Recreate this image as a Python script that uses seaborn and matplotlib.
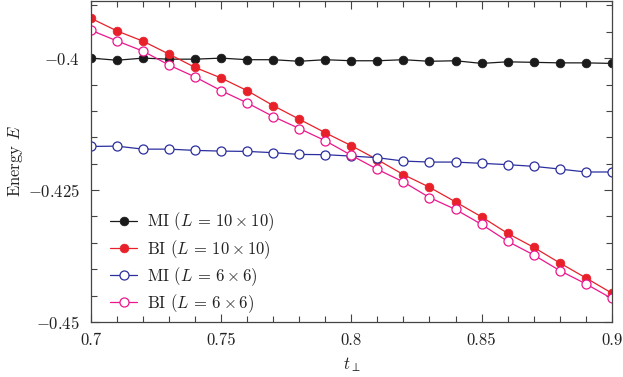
import numpy as np
import pandas as pd
import matplotlib
matplotlib.use('Agg')
import matplotlib.pyplot as plt
import seaborn as sns
from matplotlib.ticker import MultipleLocator, FixedLocator, FixedFormatter

# Datos
t_perp = [0.70, 0.71, 0.72, 0.73, 0.74, 0.75, 0.76, 0.77, 0.78, 0.79, 0.80,
          0.81, 0.82, 0.83, 0.84, 0.85, 0.86, 0.87, 0.88, 0.89, 0.90]

mi_10 = [-0.4000, -0.4004, -0.4000, -0.4002, -0.4002, -0.4000, -0.4003,
         -0.4003, -0.4006, -0.4003, -0.4005, -0.4005, -0.4003, -0.4006,
         -0.4005, -0.4010, -0.4007, -0.4008, -0.4009, -0.4009, -0.4010]

bi_10 = [-0.39245, -0.39485, -0.39679, -0.39925, -0.40177, -0.40377, -0.40617,
         -0.40900, -0.41158, -0.41415, -0.41660, -0.41925, -0.42208, -0.42447,
         -0.42725, -0.43008, -0.43321, -0.43585, -0.43881, -0.44164, -0.44453]

mi_6 = [-0.41674, -0.41668, -0.41725, -0.41725, -0.41749, -0.41762, -0.41768,
        -0.41792, -0.41825, -0.41830, -0.41857, -0.41887, -0.41951, -0.41970,
        -0.41970, -0.41994, -0.42019, -0.42051, -0.42102, -0.42158, -0.42158]

bi_6 = [-0.39472, -0.39674, -0.39868, -0.40132, -0.40358, -0.40617, -0.40849,
        -0.41108, -0.41334, -0.41566, -0.41843, -0.42108, -0.42347, -0.42642,
        -0.42868, -0.43151, -0.43472, -0.43730, -0.44026, -0.44277, -0.44555]

series_labels = [r'MI ($L\,=\,10\times10$)', r'BI ($L\,=\,10\times10$)',
                 r'MI ($L\,=\,6\times6$)', r'BI ($L\,=\,6\times6$)']

x_ticks = [0.7, 0.75, 0.8, 0.85, 0.9]
x_tick_labels = ['0.7', '0.75', '0.8', '0.85', '0.9']
y_ticks = [-0.45, -0.425, -0.4]
y_tick_labels = [r'$-0.45$', r'$-0.425$', r'$-0.4$']

df = pd.DataFrame({
    't': t_perp * 4,
    'E': mi_10 + bi_10 + mi_6 + bi_6,
    'serie': sum([[lab] * len(t_perp) for lab in series_labels], []),
})

sns.set_style('ticks')
plt.rcParams['font.family'] = ['cmr10', 'DejaVu Serif']
plt.rcParams['mathtext.fontset'] = 'cm'
plt.rcParams['axes.formatter.use_mathtext'] = True

colores = ['#1a1a1a', '#e8202a', '#2b2f9e', '#ec168c']
rellenos = [True, True, False, False]

fig = plt.figure(figsize=(6.23, 3.77), dpi=100)
ax = fig.add_axes([0.146, 0.146, 0.836, 0.851])

for lab, col, lleno in zip(series_labels, colores, rellenos):
    sub = df[df['serie'] == lab]
    sns.lineplot(data=sub, x='t', y='E', ax=ax, color=col, linewidth=0.9,
                 marker='o', markersize=6.5 if not lleno else 6.3,
                 markerfacecolor=col if lleno else 'white',
                 markeredgecolor=col, markeredgewidth=0.9 if not lleno else 0.5,
                 label=lab)

ax.set_xlim(0.7, 0.9)
ax.set_ylim(-0.45, -0.3892)
ax.xaxis.set_major_locator(FixedLocator(x_ticks))
ax.xaxis.set_major_formatter(FixedFormatter(x_tick_labels))
ax.xaxis.set_minor_locator(MultipleLocator(0.01))
ax.yaxis.set_major_locator(FixedLocator(y_ticks))
ax.yaxis.set_major_formatter(FixedFormatter(y_tick_labels))
ax.yaxis.set_minor_locator(MultipleLocator(0.005))

ax.tick_params(which='both', direction='in', top=True, right=True,
               color='#444444', labelsize=12, labelcolor='#222222', pad=8)
ax.tick_params(which='major', length=6, width=0.8)
ax.tick_params(which='minor', length=4, width=0.8)
for s in ax.spines.values():
    s.set_color('#444444')
    s.set_linewidth(0.9)

ax.set_xlabel(r'$t_\perp$', fontsize=12, color='#222222', labelpad=5)
ax.set_ylabel(r'Energy $E$', fontsize=12, color='#222222', labelpad=2)

ax.legend(loc='lower left', bbox_to_anchor=(0.015, -0.015), frameon=False,
          fontsize=12, handlelength=1.6, handletextpad=0.6, labelspacing=0.27,
          borderaxespad=0.3, labelcolor='#222222')

fig.savefig('out.png', dpi=100)
